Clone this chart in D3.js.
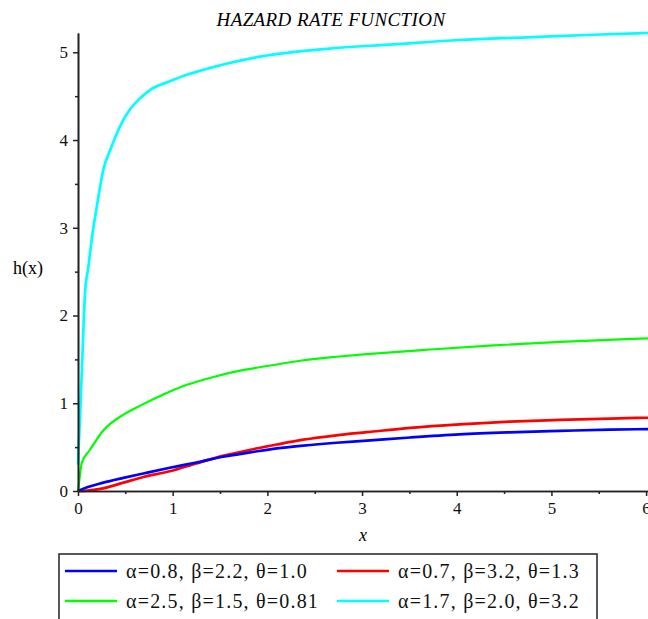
<!DOCTYPE html>
<html>
<head>
<meta charset="utf-8">
<script src="https://cdn.jsdelivr.net/npm/d3@7"></script>
<style>
  body { margin: 0; background: #fff; }
  svg text { font-family: "Times New Roman", "Liberation Serif", "DejaVu Serif", serif; }
</style>
</head>
<body>
<div id="chart"></div>
<script>
// Data
const blueX = [0, 0.02, 0.267, 0.48, 0.69, 0.97, 1.25, 1.53, 1.82, 2.10, 2.38, 2.73, 3.05, 3.51, 4.03, 4.56, 5.09, 5.62, 6.02]
const blueH = [0, 0.01, 0.095, 0.15, 0.20, 0.265, 0.325, 0.39, 0.44, 0.486, 0.518, 0.55, 0.574, 0.61, 0.645, 0.668, 0.685, 0.70, 0.705]

const redX = [0, 0.1, 0.267, 0.48, 0.69, 0.97, 1.25, 1.53, 1.82, 2.10, 2.38, 2.73, 3.05, 3.51, 4.03, 4.56, 5.09, 5.62, 6.02]
const redH = [0, 0.005, 0.03, 0.095, 0.16, 0.225, 0.315, 0.40, 0.47, 0.53, 0.585, 0.635, 0.67, 0.72, 0.76, 0.79, 0.81, 0.826, 0.835]

const greenX = [0, 0.014, 0.04, 0.127, 0.267, 0.48, 0.69, 0.90, 1.15, 1.43, 1.75, 2.03, 2.38, 2.73, 3.05, 3.68, 4.39, 5.09, 5.79, 6.02]
const greenH = [0, 0.125, 0.32, 0.47, 0.69, 0.87, 0.99, 1.10, 1.21, 1.30, 1.38, 1.43, 1.49, 1.53, 1.56, 1.61, 1.66, 1.70, 1.73, 1.74]

const cyanX = [0, 0.005, 0.02, 0.05, 0.074, 0.109, 0.144, 0.18, 0.215, 0.267, 0.338, 0.46, 0.53, 0.67, 0.76, 0.97, 1.165, 1.29, 1.92, 2.63, 3.33, 4.03, 4.74, 5.44, 6.02]
const cyanH = [0.3, 0.45, 0.8, 1.64, 2.25, 2.55, 2.86, 3.12, 3.35, 3.66, 3.88, 4.19, 4.32, 4.49, 4.57, 4.67, 4.75, 4.79, 4.95, 5.04, 5.09, 5.14, 5.17, 5.20, 5.22]

const yTicks = [0, 1, 2, 3, 4, 5]
const xTicks = [0, 1, 2, 3, 4, 5, 6]
const yMinor = [0.5, 1.5, 2.5, 3.5, 4.5]
const xMinor = [0.5, 1.5, 2.5, 3.5, 4.5, 5.5]

const seriesNames = [
  'α=0.8, β=2.2, θ=1.0',
  'α=0.7, β=3.2, θ=1.3',
  'α=2.5, β=1.5, θ=0.81',
  'α=1.7, β=2.0, θ=3.2'
]
const seriesColors = ['#0000ff', '#ff0000', '#00ff00', '#00ffff']

const series = [
  { x: blueX, h: blueH },
  { x: redX, h: redH },
  { x: greenX, h: greenH },
  { x: cyanX, h: cyanH }
]

const serif = '"Times New Roman", "Liberation Serif", serif'

// Dimensions
const width = 648
const height = 619

const svg = d3.select('#chart')
  .append('svg')
  .attr('width', width)
  .attr('height', height)

// scales
const xScale = d3.scaleLinear()
  .domain([0, 6.02])
  .range([78, 648])

const yScale = d3.scaleLinear()
  .domain([0, 5.22])
  .range([491, 33])

// Curves
const line = d3.line()
  .x(d => xScale(d[0]))
  .y(d => yScale(d[1]))
  .curve(d3.curveMonotoneX)

// cyan on top, as in the picture
const order = [2, 1, 0, 3]
order.forEach(i => {
  const s = series[i]
  const pts = s.x.map((v, j) => [v, s.h[j]])
  svg.append('path')
    .attr('d', line(pts))
    .attr('fill', 'none')
    .attr('stroke', seriesColors[i])
    .attr('stroke-width', i === 2 ? 2.2 : 2.7)
})

// Axes
svg.append('g')
  .attr('transform', `translate(${xScale(0)},0)`)
  .call(d3.axisLeft(yScale).tickValues(yTicks).tickSize(5).tickSizeOuter(0).tickPadding(5).tickFormat(d3.format('d')))
svg.append('g')
  .attr('transform', `translate(${xScale(0)},0)`)
  .call(d3.axisLeft(yScale).tickValues(yMinor).tickSize(3).tickSizeOuter(0).tickFormat(''))

svg.append('g')
  .attr('transform', `translate(0,${yScale(0)})`)
  .call(d3.axisBottom(xScale).tickValues(xTicks).tickSize(5).tickSizeOuter(0).tickPadding(6).tickFormat(d3.format('d')))
svg.append('g')
  .attr('transform', `translate(0,${yScale(0)})`)
  .call(d3.axisBottom(xScale).tickValues(xMinor).tickSize(3).tickSizeOuter(0).tickFormat(''))

svg.selectAll('g').attr('font-family', serif)
svg.selectAll('.domain').attr('stroke', '#222').attr('stroke-width', 1.6)
svg.selectAll('.tick line').attr('stroke', '#222').attr('stroke-width', 1.5)
svg.selectAll('.tick text')
  .attr('font-family', serif)
  .attr('font-size', 17)
  .attr('fill', '#111')

// Title and labels
svg.append('text')
  .attr('x', 331)
  .attr('y', 26)
  .attr('text-anchor', 'middle')
  .attr('font-family', serif)
  .attr('font-size', 19)
  .attr('letter-spacing', 0.4)
  .attr('font-style', 'italic')
  .text('HAZARD RATE FUNCTION')

svg.append('text')
  .attr('x', 28)
  .attr('y', 274)
  .attr('text-anchor', 'middle')
  .attr('font-family', serif)
  .attr('font-size', 18)
  .text('h(x)')

svg.append('text')
  .attr('x', 363)
  .attr('y', 541)
  .attr('text-anchor', 'middle')
  .attr('font-family', serif)
  .attr('font-size', 18)
  .attr('font-style', 'italic')
  .text('x')

// Legend
const legend = svg.append('g')
legend.append('rect')
  .attr('x', 59)
  .attr('y', 554)
  .attr('width', 538)
  .attr('height', 80)
  .attr('fill', 'none')
  .attr('stroke', '#222')
  .attr('stroke-width', 1.5)

const legendX = [65, 337]
const legendY = [571, 601]
seriesNames.forEach((name, i) => {
  const col = i % 2
  const row = Math.floor(i / 2)
  const g = legend.append('g')
    .attr('transform', `translate(${legendX[col]},${legendY[row]})`)
  g.append('line')
    .attr('x1', 0).attr('x2', 52)
    .attr('y1', 0).attr('y2', 0)
    .attr('stroke', seriesColors[i])
    .attr('stroke-width', 2.7)
  g.append('text')
    .attr('x', 61)
    .attr('y', 7)
    .attr('font-family', serif)
    .attr('font-size', 20)
    .attr('letter-spacing', 1.2)
    .attr('fill', '#111')
    .text(name)
})
</script>
</body>
</html>
